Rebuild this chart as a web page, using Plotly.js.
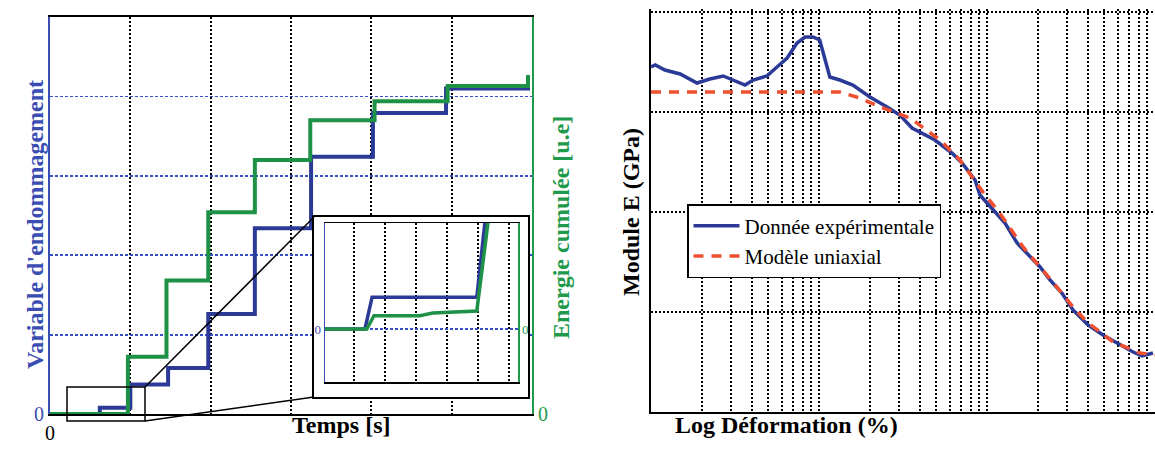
<!DOCTYPE html>
<html>
<head>
<meta charset="utf-8">
<script src="https://cdn.plot.ly/plotly-3.0.1.min.js"></script>
<style>html,body{margin:0;padding:0;background:#fff;}#chart{width:1155px;height:453px;}</style>
</head>
<body>
<div id="chart"></div>
<script>
// ---- Left chart: step curves (time, level) ----
const damageTime   = [0, 0.62, 1.00, 1.47, 1.97, 2.55, 3.25, 4.02, 4.93, 5.90, 5.95];
const damageLevel  = [0, 0.08, 0.37, 0.58, 1.26, 2.34, 3.24, 3.79, 4.10, 4.10, 4.17];
const energyTime   = [0, 0.97, 1.45, 1.97, 2.55, 3.24, 4.04, 4.95, 5.90, 5.95];
const energyLevel  = [0, 0.72, 1.68, 2.54, 3.20, 3.70, 3.94, 4.13, 4.13, 4.27];

// ---- Inset (zoom on the start) ----
const insetDamageTime  = [0.07, 1.36, 1.59, 4.97, 5.23, 5.30];
const insetDamageLevel = [0, 0, 0.60, 0.60, 2.0, 2.3];
const insetEnergyTime  = [0.07, 1.42, 1.65, 3.13, 3.55, 4.97, 5.33, 5.40];
const insetEnergyLevel = [0, 0, 0.25, 0.25, 0.30, 0.34, 2.0, 2.3];

// ---- Right chart: modulus vs strain (log) ----
const expStrain = [1.00e-4,1.06e-4,1.21e-4,1.49e-4,1.88e-4,2.24e-4,2.69e-4,3.08e-4,3.63e-4,4.05e-4,4.90e-4,5.62e-4,6.46e-4,7.40e-4,8.26e-4,9.20e-4,1.01e-3,1.16e-3,1.33e-3,1.59e-3,2.01e-3,2.54e-3,3.03e-3,3.58e-3,3.99e-3,4.90e-3,6.19e-3,7.10e-3,8.49e-3,9.08e-3,1.09e-2,1.28e-2,1.51e-2,1.73e-2,2.07e-2,2.37e-2,2.79e-2,3.25e-2,3.99e-2,4.90e-2,6.19e-2,7.40e-2,8.38e-2,9.72e-2];
const expModulus = [34.5,34.7,34.2,33.8,32.9,33.3,33.6,33.2,32.7,33.2,33.6,34.5,35.4,36.9,37.5,37.5,37.2,33.5,33.2,32.7,31.5,30.5,29.7,28.4,28.0,27.2,25.9,24.9,23.2,21.7,20.2,18.9,16.9,15.9,14.5,13.2,11.9,10.2,8.7,7.7,6.7,6.0,5.6,5.9];
const modelStrain  = [1.00e-4,1.33e-3,1.75e-3,2.31e-3,3.48e-3,5.25e-3,6.90e-3,9.46e-3,1.19e-2,1.64e-2,2.61e-2,3.25e-2,3.94e-2,5.62e-2,8.15e-2,1.00e-1];
const modelModulus = [32.0,32.0,31.4,30.5,29.4,27.2,25.2,22.0,19.9,16.5,12.5,10.5,9.0,7.0,5.9,5.7];

const seriesNames = ['Donnée expérimentale', 'Modèle uniaxial'];
const mainXTicks = [0,1,2,3,4,5,6];
const mainYTicks = [0,1,2,3,4];

const BLUE = '#2b3a96', GREEN = '#1d9146', BLUE_T = '#3a4db2', GREEN_T = '#1f9a4c', RED = '#f0502f';
const SERIF = 'Liberation Serif, Times New Roman, serif';
const W = 1155, H = 453;
const px = v => v / W, py = v => 1 - v / H;

const traces = [
  {x: damageTime, y: damageLevel, xaxis:'x', yaxis:'y', mode:'lines', line:{shape:'hv', color:BLUE, width:4}, showlegend:false, hoverinfo:'skip'},
  {x: energyTime, y: energyLevel, xaxis:'x', yaxis:'y2', mode:'lines', line:{shape:'hv', color:GREEN, width:4}, showlegend:false, hoverinfo:'skip'},
  {x: [], y: [], xaxis:'x3', yaxis:'y3', mode:'lines', showlegend:false},
  {x: insetDamageTime, y: insetDamageLevel, xaxis:'x4', yaxis:'y4', mode:'lines', line:{color:BLUE, width:3.5}, showlegend:false, hoverinfo:'skip'},
  {x: insetEnergyTime, y: insetEnergyLevel, xaxis:'x4', yaxis:'y5', mode:'lines', line:{color:GREEN, width:3.5}, showlegend:false, hoverinfo:'skip'},
  {x: expStrain, y: expModulus, xaxis:'x6', yaxis:'y6', mode:'lines', name: seriesNames[0], line:{color:BLUE, width:3.5}},
  {x: modelStrain, y: modelModulus, xaxis:'x6', yaxis:'y6', mode:'lines', name: seriesNames[1], line:{color:RED, width:3.5, dash:'10px,8px'}}
];

const dotGrid = {showgrid:true, gridcolor:'#000', gridwidth:2, griddash:'2px,2px'};
const blueGrid = {showgrid:true, gridcolor:'#3550c8', gridwidth:1.8, griddash:'3px,2px'};

const layout = {
  width: W, height: H,
  margin: {l:0, r:0, t:0, b:0, autoexpand:false},
  paper_bgcolor: '#fff', plot_bgcolor: '#fff',
  font: {family: SERIF, color:'#000'},
  // main left chart
  xaxis: Object.assign({domain:[px(50), px(532)], range:[0,6], anchor:'y', tickmode:'array', tickvals: mainXTicks,
    ticktext: mainXTicks.map(v => v === 0 ? '0' : ''), ticks:'', showline:true, mirror:true, linecolor:'#000', linewidth:2,
    zeroline:false, tickfont:{size:20, color:'#000', family:SERIF}}, dotGrid),
  yaxis: Object.assign({domain:[py(414), py(17)], range:[0,5], anchor:'x', tickmode:'array', tickvals: mainYTicks,
    ticktext: mainYTicks.map(v => v === 0 ? '0' : ''), ticks:'', showline:true, linecolor:BLUE_T, linewidth:2,
    zeroline:false, tickfont:{size:20, color:BLUE_T, family:SERIF}}, blueGrid),
  yaxis2: {overlaying:'y', side:'right', anchor:'x', range:[0,5], tickmode:'array', tickvals:[0], ticktext:['0'],
    ticks:'', showgrid:false, zeroline:false, showline:true, linecolor:GREEN_T, linewidth:2, tickfont:{size:20, color:GREEN_T, family:SERIF}},
  // inset outer box
  xaxis3: {domain:[px(314), px(528)], range:[0,1], anchor:'y3', showgrid:false, zeroline:false, showticklabels:false, ticks:'',
    showline:true, mirror:true, linecolor:'#000', linewidth:2},
  yaxis3: {domain:[py(397), py(217)], range:[0,1], anchor:'x3', showgrid:false, zeroline:false, showticklabels:false, ticks:'',
    showline:true, mirror:true, linecolor:'#000', linewidth:2},
  // inset plot
  xaxis4: Object.assign({domain:[px(325), px(518)], range:[0.07,6.3], anchor:'y4', tickmode:'array', tickvals:[1,2,3,4,5,6],
    showticklabels:false, ticks:'', showline:true, mirror:true, linecolor:'#000', linewidth:1.5, zeroline:false}, dotGrid),
  yaxis4: Object.assign({domain:[py(382), py(223)], range:[-1,2], anchor:'x4', tickmode:'array', tickvals:[0], ticktext:['0'],
    ticks:'', showline:true, linecolor:BLUE_T, linewidth:1.5, zeroline:false, tickfont:{size:13, color:BLUE_T, family:SERIF}}, blueGrid),
  yaxis5: {overlaying:'y4', side:'right', anchor:'x4', range:[-1,2], tickmode:'array', tickvals:[0], ticktext:['0'], ticks:'',
    showgrid:false, zeroline:false, showline:true, linecolor:GREEN_T, linewidth:1.5, tickfont:{size:13, color:GREEN_T, family:SERIF}},
  // right chart
  xaxis6: Object.assign({domain:[px(651), 1], type:'log', range:[-4,-1], anchor:'y6', dtick:'D1', showticklabels:false, ticks:'',
    showline:true, linecolor:'#000', linewidth:2, zeroline:false}, dotGrid),
  yaxis6: Object.assign({domain:[py(412), py(9)], range:[0,40.3], anchor:'x6', dtick:10, showticklabels:false, ticks:'',
    showline:true, linecolor:'#000', linewidth:2, zeroline:false}, dotGrid),
  showlegend: true,
  legend: {x: px(687), y: py(204), xanchor:'left', yanchor:'top', bgcolor:'#fff', bordercolor:'#000', borderwidth:1.5,
    font:{family:SERIF, size:21, color:'#000'}, itemwidth:46, tracegroupgap:0},
  shapes: [
    {type:'rect', xref:'paper', yref:'paper', x0:px(67), x1:px(145), y0:py(421), y1:py(387), line:{color:'#000', width:1.5}, layer:'above'},
    {type:'line', xref:'paper', yref:'paper', x0:px(145), y0:py(387), x1:px(314), y1:py(217), line:{color:'#000', width:1.5}, layer:'above'},
    {type:'line', xref:'paper', yref:'paper', x0:px(145), y0:py(421), x1:px(314), y1:py(397), line:{color:'#000', width:1.5}, layer:'above'}
  ],
  annotations: [
    {text:"<b>Variable d'endommagement</b>", xref:'paper', yref:'paper', x:px(20), y:py(225), textangle:-90, showarrow:false,
      font:{family:SERIF, size:24, color:BLUE_T}},
    {text:'<b>Energie cumulée [u.e]</b>', xref:'paper', yref:'paper', x:px(561), y:py(228), textangle:-90, showarrow:false,
      font:{family:SERIF, size:24, color:GREEN_T}},
    {text:'<b>Temps [s]</b>', xref:'paper', yref:'paper', x:px(290), y:py(440), showarrow:false,
      font:{family:SERIF, size:24, color:'#000'}},
    {text:'<b>Module E (GPa)</b>', xref:'paper', yref:'paper', x:px(631), y:py(212), textangle:-90, showarrow:false,
      font:{family:SERIF, size:24, color:'#000'}},
    {text:'<b>Log Déformation (%)</b>', xref:'paper', yref:'paper', x:px(900), y:py(440), showarrow:false,
      font:{family:SERIF, size:24, color:'#000'}}
  ]
};

Plotly.newPlot('chart', traces, layout, {displayModeBar:false, staticPlot:true});
</script>
</body>
</html>
